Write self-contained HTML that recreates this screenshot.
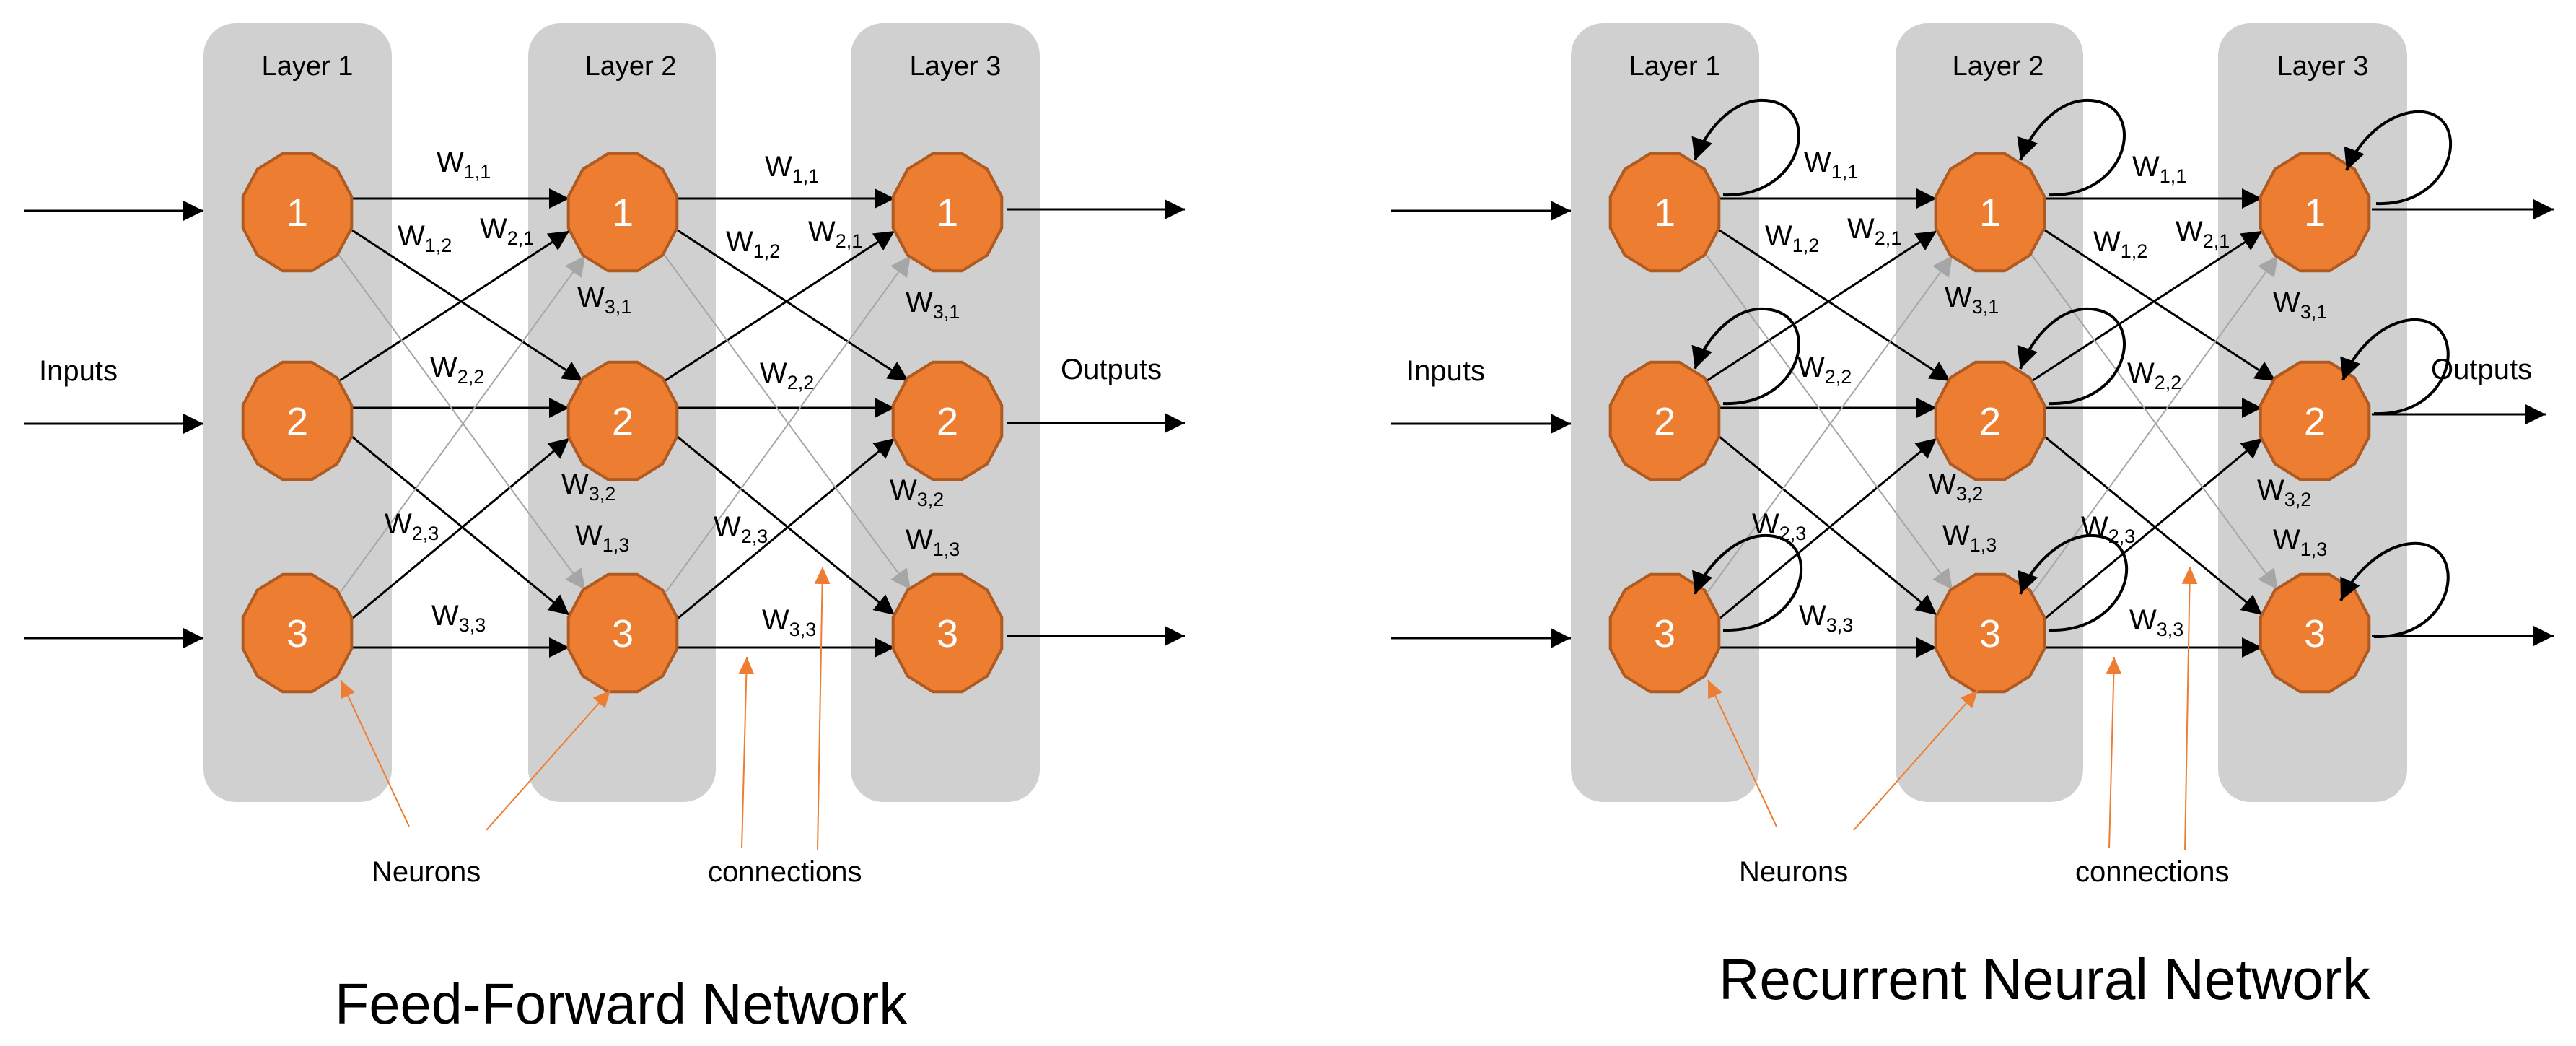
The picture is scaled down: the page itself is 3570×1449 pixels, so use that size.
<!DOCTYPE html>
<html><head><meta charset="utf-8"><style>
html,body{margin:0;padding:0;background:#fff;}
svg{display:block;}
text{font-family:"Liberation Sans",sans-serif;fill:#000;}
.lay{font-size:38px;}
.w{font-size:40px;}
.w tspan{font-size:27px;}
.n{font-size:54px;fill:#fff;}
.lb{font-size:40px;}
</style></head><body>
<svg width="3570" height="1449" viewBox="0 0 3570 1449" xmlns="http://www.w3.org/2000/svg">
<defs>
<marker id="ab" markerUnits="userSpaceOnUse" markerWidth="30" markerHeight="30" refX="28" refY="14" orient="auto"><path d="M0,0 L28,14 L0,28 Z" fill="#000"/></marker>
<marker id="ag" markerUnits="userSpaceOnUse" markerWidth="30" markerHeight="30" refX="28" refY="14" orient="auto"><path d="M0,0 L28,14 L0,28 Z" fill="#a6a6a6"/></marker>
<marker id="ao" markerUnits="userSpaceOnUse" markerWidth="26" markerHeight="26" refX="24" refY="11" orient="auto"><path d="M0,0 L24,11 L0,22 Z" fill="#ed7d31"/></marker>
<marker id="al" markerUnits="userSpaceOnUse" markerWidth="34" markerHeight="34" refX="30" refY="15" orient="auto"><path d="M0,0 L30,15 L0,30 Z" fill="#000"/></marker>
<polygon id="oct" points="75.3,21.8 55.2,59.6 20.2,81.3 -20.2,81.3 -55.2,59.6 -75.3,21.8 -75.3,-21.8 -55.2,-59.6 -20.2,-81.3 20.2,-81.3 55.2,-59.6 75.3,-21.8" fill="#ed7d31" stroke="#ae5a21" stroke-width="4"/>
</defs>

<!-- ============ LEFT: FEED-FORWARD ============ -->
<g>
<rect x="282" y="32" width="261" height="1079" rx="45" fill="#d0d0d0"/>
<rect x="732" y="32" width="260" height="1079" rx="45" fill="#d0d0d0"/>
<rect x="1179" y="32" width="262" height="1079" rx="45" fill="#d0d0d0"/>
<text class="lay" x="426" y="104" text-anchor="middle">Layer 1</text>
<text class="lay" x="874" y="104" text-anchor="middle">Layer 2</text>
<text class="lay" x="1324" y="104" text-anchor="middle">Layer 3</text>

<g stroke="#000" stroke-width="3" fill="none" marker-end="url(#ab)">
<line x1="33" y1="292" x2="282" y2="292"/>
<line x1="33" y1="587" x2="282" y2="587"/>
<line x1="33" y1="884" x2="282" y2="884"/>
<line x1="1396" y1="290" x2="1642" y2="290"/>
<line x1="1396" y1="586" x2="1642" y2="586"/>
<line x1="1396" y1="881" x2="1642" y2="881"/>
<line x1="488" y1="275" x2="789" y2="275"/>
<line x1="488" y1="565" x2="789" y2="565"/>
<line x1="488" y1="897" x2="789" y2="897"/>
<line x1="488" y1="319" x2="808" y2="528"/>
<line x1="468" y1="529" x2="789" y2="320"/>
<line x1="488" y1="605" x2="789" y2="852"/>
<line x1="488" y1="857" x2="789" y2="607"/>
<line x1="939" y1="275" x2="1240" y2="275"/>
<line x1="939" y1="565" x2="1240" y2="565"/>
<line x1="939" y1="897" x2="1240" y2="897"/>
<line x1="939" y1="319" x2="1259" y2="528"/>
<line x1="919" y1="529" x2="1240" y2="320"/>
<line x1="939" y1="605" x2="1240" y2="852"/>
<line x1="939" y1="857" x2="1240" y2="607"/>
</g>
<g stroke="#a6a6a6" stroke-width="2" fill="none" marker-end="url(#ag)">
<line x1="468" y1="351" x2="811" y2="817"/>
<line x1="472" y1="820" x2="811" y2="354"/>
<line x1="919" y1="351" x2="1262" y2="817"/>
<line x1="923" y1="820" x2="1262" y2="354"/>
</g>

<use href="#oct" x="412" y="294"/><use href="#oct" x="412" y="583"/><use href="#oct" x="412" y="877"/>
<use href="#oct" x="863" y="294"/><use href="#oct" x="863" y="583"/><use href="#oct" x="863" y="877"/>
<use href="#oct" x="1313" y="294"/><use href="#oct" x="1313" y="583"/><use href="#oct" x="1313" y="877"/>
<text class="n" x="412" y="313" text-anchor="middle">1</text>
<text class="n" x="412" y="602" text-anchor="middle">2</text>
<text class="n" x="412" y="896" text-anchor="middle">3</text>
<text class="n" x="863" y="313" text-anchor="middle">1</text>
<text class="n" x="863" y="602" text-anchor="middle">2</text>
<text class="n" x="863" y="896" text-anchor="middle">3</text>
<text class="n" x="1313" y="313" text-anchor="middle">1</text>
<text class="n" x="1313" y="602" text-anchor="middle">2</text>
<text class="n" x="1313" y="896" text-anchor="middle">3</text>

<text class="w" x="605" y="238">W<tspan dy="9">1,1</tspan></text>
<text class="w" x="551" y="340">W<tspan dy="9">1,2</tspan></text>
<text class="w" x="665" y="330">W<tspan dy="9">2,1</tspan></text>
<text class="w" x="800" y="425">W<tspan dy="9">3,1</tspan></text>
<text class="w" x="596" y="522">W<tspan dy="9">2,2</tspan></text>
<text class="w" x="778" y="684">W<tspan dy="9">3,2</tspan></text>
<text class="w" x="533" y="739">W<tspan dy="9">2,3</tspan></text>
<text class="w" x="797" y="755">W<tspan dy="9">1,3</tspan></text>
<text class="w" x="598" y="866">W<tspan dy="9">3,3</tspan></text>
<text class="w" x="1060" y="244">W<tspan dy="9">1,1</tspan></text>
<text class="w" x="1006" y="348">W<tspan dy="9">1,2</tspan></text>
<text class="w" x="1120" y="334">W<tspan dy="9">2,1</tspan></text>
<text class="w" x="1255" y="432">W<tspan dy="9">3,1</tspan></text>
<text class="w" x="1053" y="530">W<tspan dy="9">2,2</tspan></text>
<text class="w" x="1233" y="692">W<tspan dy="9">3,2</tspan></text>
<text class="w" x="989" y="743">W<tspan dy="9">2,3</tspan></text>
<text class="w" x="1255" y="761">W<tspan dy="9">1,3</tspan></text>
<text class="w" x="1056" y="872">W<tspan dy="9">3,3</tspan></text>

<text class="lb" x="54" y="527">Inputs</text>
<text class="lb" x="1470" y="525">Outputs</text>
<text class="lb" x="515" y="1221">Neurons</text>
<text class="lb" x="981" y="1221">connections</text>
<g stroke="#ed7d31" stroke-width="2" fill="none" marker-end="url(#ao)">
<line x1="567" y1="1145" x2="472" y2="942"/>
<line x1="674" y1="1150" x2="846" y2="956"/>
<line x1="1028" y1="1175" x2="1035" y2="910"/>
<line x1="1133" y1="1178" x2="1140" y2="785"/>
</g>
<text x="464" y="1418" font-size="80" textLength="793" lengthAdjust="spacingAndGlyphs">Feed-Forward Network</text>
</g>

<!-- ============ RIGHT: RECURRENT ============ -->
<g transform="translate(1895,0)">
<rect x="282" y="32" width="261" height="1079" rx="45" fill="#d0d0d0"/>
<rect x="732" y="32" width="260" height="1079" rx="45" fill="#d0d0d0"/>
<rect x="1179" y="32" width="262" height="1079" rx="45" fill="#d0d0d0"/>
<text class="lay" x="426" y="104" text-anchor="middle">Layer 1</text>
<text class="lay" x="874" y="104" text-anchor="middle">Layer 2</text>
<text class="lay" x="1324" y="104" text-anchor="middle">Layer 3</text>

<g stroke="#000" stroke-width="3" fill="none" marker-end="url(#ab)">
<line x1="33" y1="292" x2="282" y2="292"/>
<line x1="33" y1="587" x2="282" y2="587"/>
<line x1="33" y1="884" x2="282" y2="884"/>
<line x1="1392" y1="290" x2="1644" y2="290"/>
<line x1="1392" y1="574" x2="1633" y2="574"/>
<line x1="1392" y1="881" x2="1644" y2="881"/>
<line x1="488" y1="275" x2="789" y2="275"/>
<line x1="488" y1="565" x2="789" y2="565"/>
<line x1="488" y1="897" x2="789" y2="897"/>
<line x1="488" y1="319" x2="808" y2="528"/>
<line x1="468" y1="529" x2="789" y2="320"/>
<line x1="488" y1="605" x2="789" y2="852"/>
<line x1="488" y1="857" x2="789" y2="607"/>
<line x1="939" y1="275" x2="1240" y2="275"/>
<line x1="939" y1="565" x2="1240" y2="565"/>
<line x1="939" y1="897" x2="1240" y2="897"/>
<line x1="939" y1="319" x2="1259" y2="528"/>
<line x1="919" y1="529" x2="1240" y2="320"/>
<line x1="939" y1="605" x2="1240" y2="852"/>
<line x1="939" y1="857" x2="1240" y2="607"/>
</g>
<g stroke="#a6a6a6" stroke-width="2" fill="none" marker-end="url(#ag)">
<line x1="468" y1="351" x2="811" y2="817"/>
<line x1="472" y1="820" x2="811" y2="354"/>
<line x1="919" y1="351" x2="1262" y2="817"/>
<line x1="923" y1="820" x2="1262" y2="354"/>
</g>

<use href="#oct" x="412" y="294"/><use href="#oct" x="412" y="583"/><use href="#oct" x="412" y="877"/>
<use href="#oct" x="863" y="294"/><use href="#oct" x="863" y="583"/><use href="#oct" x="863" y="877"/>
<use href="#oct" x="1313" y="294"/><use href="#oct" x="1313" y="583"/><use href="#oct" x="1313" y="877"/>
<text class="n" x="412" y="313" text-anchor="middle">1</text>
<text class="n" x="412" y="602" text-anchor="middle">2</text>
<text class="n" x="412" y="896" text-anchor="middle">3</text>
<text class="n" x="863" y="313" text-anchor="middle">1</text>
<text class="n" x="863" y="602" text-anchor="middle">2</text>
<text class="n" x="863" y="896" text-anchor="middle">3</text>
<text class="n" x="1313" y="313" text-anchor="middle">1</text>
<text class="n" x="1313" y="602" text-anchor="middle">2</text>
<text class="n" x="1313" y="896" text-anchor="middle">3</text>

<!-- self loops -->
<g stroke="#000" stroke-width="4" fill="none" marker-end="url(#al)">
<path transform="translate(412,294)" d="M81,-24 C200,-20 220,-160 130,-155 C90,-152 55,-110 42,-72"/>
<path transform="translate(412,583)" d="M81,-24 C200,-20 220,-160 130,-155 C90,-152 55,-110 42,-72"/>
<path transform="translate(412,877)" d="M81,-4 C200,0 225,-140 135,-135 C95,-132 55,-90 42,-54"/>
<path transform="translate(863,294)" d="M81,-24 C200,-20 220,-160 130,-155 C90,-152 55,-110 42,-72"/>
<path transform="translate(863,583)" d="M81,-24 C200,-20 220,-160 130,-155 C90,-152 55,-110 42,-72"/>
<path transform="translate(863,877)" d="M81,-4 C200,0 225,-140 135,-135 C95,-132 55,-90 42,-54"/>
<path transform="translate(1313,294)" d="M85,-12 C200,-8 220,-145 139,-139 C100,-136 60,-100 44,-58"/>
<path transform="translate(1313,583)" d="M82,-10 C200,-6 215,-145 134,-140 C95,-137 55,-100 39,-56"/>
<path transform="translate(1313,877)" d="M82,5 C200,8 215,-130 134,-124 C95,-121 55,-85 36,-45"/>
</g>

<text class="w" x="605" y="238">W<tspan dy="9">1,1</tspan></text>
<text class="w" x="551" y="340">W<tspan dy="9">1,2</tspan></text>
<text class="w" x="665" y="330">W<tspan dy="9">2,1</tspan></text>
<text class="w" x="800" y="425">W<tspan dy="9">3,1</tspan></text>
<text class="w" x="596" y="522">W<tspan dy="9">2,2</tspan></text>
<text class="w" x="778" y="684">W<tspan dy="9">3,2</tspan></text>
<text class="w" x="533" y="739">W<tspan dy="9">2,3</tspan></text>
<text class="w" x="797" y="755">W<tspan dy="9">1,3</tspan></text>
<text class="w" x="598" y="866">W<tspan dy="9">3,3</tspan></text>
<text class="w" x="1060" y="244">W<tspan dy="9">1,1</tspan></text>
<text class="w" x="1006" y="348">W<tspan dy="9">1,2</tspan></text>
<text class="w" x="1120" y="334">W<tspan dy="9">2,1</tspan></text>
<text class="w" x="1255" y="432">W<tspan dy="9">3,1</tspan></text>
<text class="w" x="1053" y="530">W<tspan dy="9">2,2</tspan></text>
<text class="w" x="1233" y="692">W<tspan dy="9">3,2</tspan></text>
<text class="w" x="989" y="743">W<tspan dy="9">2,3</tspan></text>
<text class="w" x="1255" y="761">W<tspan dy="9">1,3</tspan></text>
<text class="w" x="1056" y="872">W<tspan dy="9">3,3</tspan></text>

<text class="lb" x="54" y="527">Inputs</text>
<text class="lb" x="1474" y="525">Outputs</text>
<text class="lb" x="515" y="1221">Neurons</text>
<text class="lb" x="981" y="1221">connections</text>
<g stroke="#ed7d31" stroke-width="2" fill="none" marker-end="url(#ao)">
<line x1="567" y1="1145" x2="472" y2="942"/>
<line x1="674" y1="1150" x2="846" y2="956"/>
<line x1="1028" y1="1175" x2="1035" y2="910"/>
<line x1="1133" y1="1178" x2="1140" y2="785"/>
</g>
<text x="487" y="1384" font-size="80" textLength="903" lengthAdjust="spacingAndGlyphs">Recurrent Neural Network</text>
</g>
</svg>
</body></html>
